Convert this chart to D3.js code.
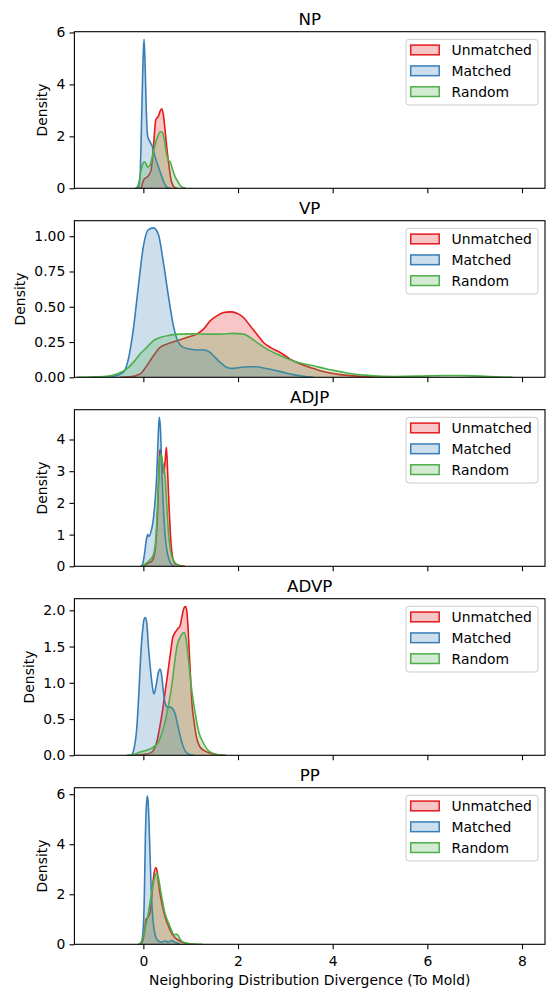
<!DOCTYPE html>
<html>
<head>
<meta charset="utf-8">
<script src="https://cdn.jsdelivr.net/npm/d3@7"></script>
<style>
body { margin: 0; background: #fff; }
text { font-family: "DejaVu Sans", sans-serif; }
</style>
</head>
<body>
<div id="vis"></div>
<script>
// values, each point is [divergence, density]
const panelNames = ['NP', 'VP', 'ADJP', 'ADVP', 'PP']
const seriesNames = ['Unmatched', 'Matched', 'Random']
const xTicks = [0, 2, 4, 6, 8]
const yMax = [6.03, 1.11, 4.94, 2.16, 6.26]
const npTicks = [0, 2, 4, 6]
const vpTicks = [0, 0.25, 0.5, 0.75, 1.0]
const adjpTicks = [0, 1, 2, 3, 4]
const advpTicks = [0, 0.5, 1, 1.5, 2]
const ppTicks = [0, 2, 4, 6]

const npUnmatched = [[-0.07,0],[-0.04,0.03],[-0.02,0.19],[0.022,0.37],[0.092,0.45],[0.163,0.7],[0.219,1.73],[0.262,2.63],[0.318,2.78],[0.36,2.99],[0.388,3.06],[0.424,2.82],[0.459,2.24],[0.501,1.47],[0.544,0.83],[0.586,0.32],[0.635,0.08],[0.685,0.01],[0.72,0]]
const npMatched = [[-0.14,0],[-0.105,0.02],[-0.07,0.45],[-0.034,2.89],[0.001,5.32],[0.015,5.74],[0.036,4.81],[0.064,2.89],[0.092,1.99],[0.142,1.79],[0.191,1.6],[0.247,1.22],[0.318,0.83],[0.389,0.45],[0.459,0.13],[0.515,0.02],[0.56,0]]
const npRandom = [[-0.18,0],[-0.14,0.03],[-0.091,0.25],[-0.049,0.7],[-0.006,0.96],[0.022,1.02],[0.057,0.94],[0.092,0.81],[0.142,0.9],[0.191,1.22],[0.247,1.67],[0.304,2.01],[0.36,2.18],[0.403,2.15],[0.445,1.86],[0.487,1.35],[0.529,1.08],[0.572,1.0],[0.614,0.75],[0.67,0.45],[0.727,0.26],[0.783,0.1],[0.847,0.02],[0.9,0]]

const vpUnmatched = [[-0.5,0],[-0.281,0.003],[-0.07,0.023],[0.071,0.082],[0.212,0.153],[0.353,0.212],[0.494,0.235],[0.706,0.259],[0.917,0.282],[1.129,0.306],[1.27,0.341],[1.411,0.4],[1.552,0.435],[1.693,0.459],[1.834,0.464],[1.975,0.454],[2.116,0.424],[2.257,0.365],[2.398,0.306],[2.539,0.247],[2.68,0.212],[2.891,0.176],[3.103,0.129],[3.314,0.094],[3.526,0.07],[3.737,0.047],[3.949,0.03],[4.16,0.019],[4.5,0.008],[5.0,0.002],[5.5,0]]
const vpMatched = [[-1.1,0],[-0.85,0.002],[-0.634,0.007],[-0.422,0.035],[-0.317,0.129],[-0.211,0.341],[-0.105,0.647],[0.001,0.93],[0.106,1.047],[0.212,1.059],[0.318,1.012],[0.424,0.812],[0.529,0.577],[0.635,0.365],[0.741,0.247],[0.847,0.212],[0.988,0.2],[1.129,0.193],[1.27,0.195],[1.411,0.176],[1.517,0.141],[1.622,0.106],[1.763,0.07],[1.869,0.063],[1.975,0.066],[2.116,0.073],[2.257,0.075],[2.398,0.075],[2.539,0.066],[2.75,0.052],[2.962,0.035],[3.173,0.019],[3.385,0.007],[3.596,0]]
const vpRandom = [[-1.4,0],[-1.127,0.002],[-0.775,0.007],[-0.563,0.023],[-0.352,0.059],[-0.211,0.106],[-0.07,0.165],[0.071,0.212],[0.212,0.259],[0.353,0.282],[0.565,0.299],[0.776,0.306],[1.058,0.308],[1.34,0.306],[1.622,0.306],[1.904,0.311],[2.116,0.306],[2.257,0.282],[2.398,0.247],[2.609,0.2],[2.821,0.165],[3.032,0.134],[3.314,0.101],[3.596,0.082],[3.878,0.059],[4.16,0.04],[4.4,0.025],[4.8,0.012],[5.3,0.006],[5.8,0.008],[6.3,0.013],[6.8,0.012],[7.3,0.006],[7.8,0]]

const adjpUnmatched = [[0,0],[0.036,0.03],[0.106,0.105],[0.177,0.157],[0.233,0.367],[0.276,0.998],[0.304,1.839],[0.325,2.891],[0.346,3.627],[0.36,3.679],[0.388,3.4],[0.431,2.943],[0.459,3.3],[0.487,3.753],[0.515,2.891],[0.544,1.839],[0.572,0.998],[0.6,0.473],[0.642,0.157],[0.685,0.06],[0.8,0.02],[0.88,0]]
const adjpMatched = [[-0.06,0],[-0.02,0.05],[0.022,0.367],[0.064,0.84],[0.092,0.998],[0.121,0.945],[0.163,1.103],[0.205,1.419],[0.247,2.05],[0.283,2.891],[0.304,3.732],[0.325,4.468],[0.339,4.699],[0.36,4.363],[0.388,3.101],[0.424,1.839],[0.459,0.998],[0.501,0.473],[0.544,0.209],[0.6,0.051],[0.656,0]]
const adjpRandom = [[-0.04,0],[0.001,0.03],[0.071,0.105],[0.142,0.209],[0.212,0.367],[0.262,0.84],[0.297,1.839],[0.325,2.891],[0.353,3.47],[0.374,3.521],[0.403,3.312],[0.431,3.101],[0.459,2.785],[0.494,1.944],[0.529,1.103],[0.565,0.577],[0.6,0.315],[0.656,0.136],[0.741,0.031],[0.811,0]]

const advpUnmatched = [[-0.2,0],[0,0.01],[0.141,0.03],[0.212,0.069],[0.283,0.183],[0.353,0.412],[0.41,0.641],[0.459,0.87],[0.508,1.099],[0.565,1.374],[0.621,1.625],[0.67,1.694],[0.72,1.74],[0.776,1.786],[0.819,1.923],[0.861,2.037],[0.889,2.051],[0.917,1.992],[0.946,1.74],[0.974,1.374],[1.002,1.007],[1.03,0.687],[1.072,0.458],[1.115,0.275],[1.164,0.16],[1.199,0.114],[1.3,0.06],[1.45,0.02],[1.6,0.005],[1.75,0]]
const advpMatched = [[-0.3,0],[-0.246,0.01],[-0.197,0.092],[-0.14,0.366],[-0.098,0.824],[-0.056,1.374],[-0.013,1.74],[0.015,1.877],[0.043,1.9],[0.071,1.832],[0.106,1.511],[0.156,1.145],[0.198,0.916],[0.226,0.847],[0.269,0.962],[0.318,1.145],[0.353,1.19],[0.388,1.099],[0.424,0.87],[0.466,0.71],[0.508,0.664],[0.565,0.664],[0.621,0.641],[0.67,0.572],[0.72,0.435],[0.776,0.275],[0.833,0.137],[0.889,0.055],[0.952,0.018],[1.023,0.005],[1.08,0]]
const advpRandom = [[-0.35,0],[-0.211,0.01],[-0.07,0.046],[0.071,0.069],[0.212,0.114],[0.318,0.183],[0.388,0.298],[0.459,0.458],[0.529,0.687],[0.6,0.962],[0.67,1.328],[0.72,1.534],[0.776,1.625],[0.833,1.685],[0.868,1.694],[0.903,1.603],[0.952,1.328],[1.002,1.007],[1.058,0.733],[1.115,0.504],[1.171,0.321],[1.26,0.18],[1.4,0.05],[1.55,0.01],[1.7,0]]

const ppUnmatched = [[-0.07,0],[-0.035,0.04],[0.022,0.465],[0.057,1.0],[0.092,1.065],[0.142,1.265],[0.177,1.933],[0.219,2.733],[0.262,3.067],[0.29,2.933],[0.318,2.465],[0.36,1.933],[0.403,1.533],[0.445,1.199],[0.487,0.933],[0.529,0.733],[0.572,0.533],[0.614,0.399],[0.67,0.265],[0.741,0.16],[0.811,0.093],[0.882,0.053],[0.988,0.01],[1.05,0]]
const ppMatched = [[-0.08,0],[-0.049,0.04],[0.001,0.733],[0.022,2.067],[0.043,4.333],[0.064,5.533],[0.085,5.933],[0.106,5.533],[0.135,3.933],[0.163,2.333],[0.191,1.267],[0.226,0.6],[0.269,0.265],[0.318,0.133],[0.388,0.093],[0.459,0.133],[0.529,0.093],[0.6,0.145],[0.656,0.093],[0.727,0.04],[0.78,0]]
const ppRandom = [[-0.11,0],[-0.07,0.03],[0.001,0.333],[0.05,0.733],[0.106,1.265],[0.163,1.933],[0.212,2.465],[0.262,2.8],[0.29,2.84],[0.318,2.665],[0.36,2.2],[0.403,1.733],[0.445,1.333],[0.487,1.065],[0.529,0.865],[0.572,0.665],[0.614,0.47],[0.656,0.38],[0.692,0.4],[0.727,0.37],[0.769,0.22],[0.811,0.13],[0.882,0.065],[0.988,0.025],[1.093,0.01],[1.25,0]]

const panelData = [
    [npUnmatched, npMatched, npRandom],
    [vpUnmatched, vpMatched, vpRandom],
    [adjpUnmatched, adjpMatched, adjpRandom],
    [advpUnmatched, advpMatched, advpRandom],
    [ppUnmatched, ppMatched, ppRandom]
]
const panelTicks = [npTicks, vpTicks, adjpTicks, advpTicks, ppTicks]
const panelFormats = [d3.format('d'), d3.format('.2f'), d3.format('d'), d3.format('.1f'), d3.format('d')]

//layout of the figure
const width = 546
const height = 992
const left = 74.4
const right = 545
const top0 = 31.7
const step = 189
const ph = 156.6
const colors = ['#e41a1c', '#377eb8', '#4daf4a']
const fontSize = 13.9

const svg = d3.select('#vis')
    .append('svg')
    .attr('width', width)
    .attr('height', height)

const x = d3.scaleLinear()
    .domain([-1.457, 8.486])
    .range([left, right])

panelNames.forEach((name, i) => {
    const t = top0 + i * step
    const y = d3.scaleLinear()
        .domain([0, yMax[i]])
        .range([t + ph, t])

    const g = svg.append('g')

    g.append('clipPath')
        .attr('id', 'clip' + i)
        .append('rect')
        .attr('x', left).attr('y', t)
        .attr('width', right - left).attr('height', ph)

    const area = d3.area()
        .x(d => x(d[0]))
        .y0(y(0))
        .y1(d => y(d[1]))
        .curve(d3.curveMonotoneX)
    const line = d3.line()
        .x(d => x(d[0]))
        .y(d => y(d[1]))
        .curve(d3.curveMonotoneX)

    const plot = g.append('g').attr('clip-path', `url(#clip${i})`)
    //layers go in legend order, Random ends on top
    for (let k = 0; k < 3; k++) {
        plot.append('path')
            .attr('d', area(panelData[i][k]))
            .attr('fill', colors[k])
            .attr('fill-opacity', 0.25)
        plot.append('path')
            .attr('d', line(panelData[i][k]))
            .attr('fill', 'none')
            .attr('stroke', colors[k])
            .attr('stroke-width', 1.6)
    }

    //y axis
    const yAxis = g.append('g')
        .attr('transform', `translate(${left},0)`)
        .call(d3.axisLeft(y)
            .tickValues(panelTicks[i])
            .tickFormat(panelFormats[i])
            .tickSize(4.9)
            .tickPadding(4.2))
    yAxis.select('.domain').remove()
    yAxis.selectAll('line').attr('stroke', '#000').attr('stroke-width', 1.1)
    yAxis.selectAll('text')
        .attr('fill', '#000')
        .style('font-size', fontSize + 'px')
        .style('font-family', '"DejaVu Sans", sans-serif')

    //x axis ticks, labels only under the last panel
    const xAxis = g.append('g')
        .attr('transform', `translate(0,${t + ph})`)
        .call(d3.axisBottom(x)
            .tickValues(xTicks)
            .tickSize(4.9)
            .tickFormat(i === panelNames.length - 1 ? d3.format('d') : ''))
    xAxis.select('.domain').remove()
    xAxis.selectAll('line').attr('stroke', '#000').attr('stroke-width', 1.1)
    xAxis.selectAll('text')
        .attr('y', 22)
        .attr('dy', null)
        .attr('fill', '#000')
        .style('font-size', fontSize + 'px')
        .style('font-family', '"DejaVu Sans", sans-serif')

    //frame
    g.append('rect')
        .attr('x', left).attr('y', t)
        .attr('width', right - left).attr('height', ph)
        .attr('fill', 'none')
        .attr('stroke', '#000')
        .attr('stroke-width', 1.1)

    //title
    g.append('text')
        .attr('x', (left + right) / 2)
        .attr('y', t - 7)
        .attr('text-anchor', 'middle')
        .style('font-size', '16.7px')
        .text(name)

    //y label sits left of the widest tick label
    let minX = left
    yAxis.selectAll('text').each(function () {
        const b = this.getBBox()
        const tx = this.parentNode.transform.baseVal.consolidate()
        const off = tx ? tx.matrix.e : 0
        minX = Math.min(minX, left + off + b.x)
    })
    g.append('text')
        .attr('transform', `translate(${minX - 9},${t + ph / 2}) rotate(-90)`)
        .attr('text-anchor', 'middle')
        .style('font-size', fontSize + 'px')
        .text('Density')

    //legend
    const lg = g.append('g').attr('transform', `translate(406,${t + 7.6})`)
    lg.append('rect')
        .attr('width', 132).attr('height', 65.7)
        .attr('rx', 3)
        .attr('fill', '#fff').attr('fill-opacity', 0.8)
        .attr('stroke', '#cccccc').attr('stroke-width', 1)
    seriesNames.forEach((s, k) => {
        const cy = 10.7 + k * 20.85
        lg.append('rect')
            .attr('x', 4.7).attr('y', cy - 4.9)
            .attr('width', 28.5).attr('height', 9.7)
            .attr('fill', colors[k]).attr('fill-opacity', 0.25)
            .attr('stroke', colors[k]).attr('stroke-width', 1.5)
        lg.append('text')
            .attr('x', 45.6).attr('y', cy)
            .attr('dy', '0.36em')
            .style('font-size', fontSize + 'px')
            .text(s)
    })
})

//shared x label
svg.append('text')
    .attr('x', (left + right) / 2)
    .attr('y', 984.5)
    .attr('text-anchor', 'middle')
    .style('font-size', fontSize + 'px')
    .text('Neighboring Distribution Divergence (To Mold)')
</script>
</body>
</html>
